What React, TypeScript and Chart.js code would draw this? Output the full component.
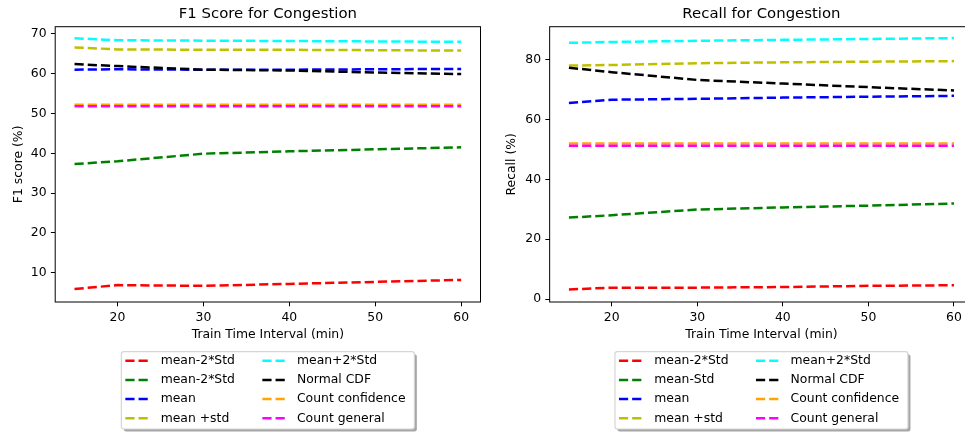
import React, { useEffect, useRef } from "react";
import { Chart, registerables } from "chart.js";

Chart.register(...registerables);

// ---------- data ----------
const intervals = [15, 20, 30, 40, 50, 60];
const xTicks = [20, 30, 40, 50, 60];
const f1Ticks = [10, 20, 30, 40, 50, 60, 70];
const recallTicks = [0, 20, 40, 60, 80];

const f1Labels = [
  "mean-2*Std",
  "mean-2*Std",
  "mean",
  "mean +std",
  "mean+2*Std",
  "Normal CDF",
  "Count confidence",
  "Count general",
];
const recallLabels = [
  "mean-2*Std",
  "mean-Std",
  "mean",
  "mean +std",
  "mean+2*Std",
  "Normal CDF",
  "Count confidence",
  "Count general",
];

const f1MeanMinus2Std = [5.9, 6.9, 6.7, 7.2, 7.7, 8.2];
const f1MeanMinusStd = [37.3, 38.0, 39.9, 40.5, 41.0, 41.5];
const f1Mean = [61.0, 61.1, 61.0, 61.0, 61.1, 61.2];
const f1MeanPlusStd = [66.6, 66.1, 66.0, 66.0, 65.9, 65.8];
const f1MeanPlus2Std = [68.9, 68.4, 68.3, 68.2, 68.1, 68.0];
const f1NormalCdf = [62.4, 61.9, 61.0, 60.8, 60.3, 59.9];
const f1CountConfidence = [52.2, 52.2, 52.2, 52.2, 52.2, 52.2];
const f1CountGeneral = [51.8, 51.8, 51.8, 51.8, 51.8, 51.8];

const recMeanMinus2Std = [3.2, 3.8, 3.8, 4.0, 4.4, 4.6];
const recMeanMinusStd = [27.2, 28.0, 29.9, 30.6, 31.2, 31.9];
const recMean = [65.5, 66.6, 66.9, 67.3, 67.6, 67.9];
const recMeanPlusStd = [78.0, 78.2, 78.8, 79.1, 79.3, 79.5];
const recMeanPlus2Std = [85.6, 85.9, 86.3, 86.6, 86.9, 87.2];
const recNormalCdf = [77.3, 75.8, 73.2, 72.0, 70.8, 69.7];
const recCountConfidence = [52.0, 52.0, 52.0, 52.0, 52.0, 52.0];
const recCountGeneral = [51.2, 51.2, 51.2, 51.2, 51.2, 51.2];

// ---------- style ----------
const FONT = "'DejaVu Sans', 'Liberation Sans', sans-serif";
const COLORS = ["#ff0000", "#008000", "#0000ff", "#bfbf00", "#00ffff", "#000000", "#ffa500", "#ff00ff"];
const DASH = [9.2, 4];

type Panel = {
  title: string;
  yLabel: string;
  yMin: number;
  yMax: number;
  yTicks: number[];
  series: number[][];
  labels: string[];
  yAxisWidth: number;
  yTitlePad: number;
  padRight: number;
};

function roundRectPath(ctx: CanvasRenderingContext2D, x: number, y: number, w: number, h: number, r: number) {
  ctx.beginPath();
  ctx.moveTo(x + r, y);
  ctx.lineTo(x + w - r, y);
  ctx.arcTo(x + w, y, x + w, y + r, r);
  ctx.lineTo(x + w, y + h - r);
  ctx.arcTo(x + w, y + h, x + w - r, y + h, r);
  ctx.lineTo(x + r, y + h);
  ctx.arcTo(x, y + h, x, y + h - r, r);
  ctx.lineTo(x, y + r);
  ctx.arcTo(x, y, x + r, y, r);
  ctx.closePath();
}

function buildChart(canvas: HTMLCanvasElement, p: Panel) {
  const datasets = p.series.map((values, i) => ({
    label: p.labels[i],
    data: values.map((v, j) => ({ x: intervals[j], y: v })),
    borderColor: COLORS[i],
    backgroundColor: COLORS[i],
    borderWidth: 2.5,
    borderDash: DASH,
    borderCapStyle: "butt" as const,
    borderJoinStyle: "round" as const,
    pointRadius: 0,
    pointHoverRadius: 0,
    fill: false,
    tension: 0,
    order: p.series.length - 1 - i,
  }));

  const decor = {
    id: "decor",
    afterDatasetsDraw(chart: any) {
      const { ctx, chartArea: a } = chart;
      ctx.save();
      // frame
      ctx.strokeStyle = "#000";
      ctx.lineWidth = 1;
      ctx.setLineDash([]);
      ctx.strokeRect(a.left, a.top, a.right - a.left, a.bottom - a.top);
      // title
      ctx.fillStyle = "#000";
      ctx.font = `14.9px ${FONT}`;
      ctx.textAlign = "center";
      ctx.textBaseline = "alphabetic";
      const cx = (a.left + a.right) / 2;
      ctx.fillText(p.title, cx, 18.3);
      // legend
      const bw = 293;
      const bh = 77.3;
      const bx = cx - bw / 2;
      const by = 351.7;
      roundRectPath(ctx, bx + 2.5, by + 2.5, bw, bh, 2.5);
      ctx.fillStyle = "rgba(77,77,77,0.5)";
      ctx.fill();
      roundRectPath(ctx, bx, by, bw, bh, 2.5);
      ctx.fillStyle = "#ffffff";
      ctx.fill();
      ctx.strokeStyle = "#d6d6d6";
      ctx.lineWidth = 1.2;
      ctx.stroke();
      p.labels.forEach((label, i) => {
        const col = i >= 4 ? 1 : 0;
        const row = i % 4;
        const y = by + 9 + row * 19.2;
        const hx = bx + (col ? 141 : 4);
        ctx.beginPath();
        ctx.setLineDash(DASH);
        ctx.lineWidth = 2.5;
        ctx.lineCap = "butt";
        ctx.strokeStyle = COLORS[i];
        ctx.moveTo(hx, y);
        ctx.lineTo(hx + 24.8, y);
        ctx.stroke();
        ctx.setLineDash([]);
        ctx.fillStyle = "#000";
        ctx.font = `12.4px ${FONT}`;
        ctx.textAlign = "left";
        ctx.textBaseline = "middle";
        ctx.fillText(label, bx + (col ? 175.6 : 39.3), y);
      });
      ctx.restore();
    },
  };

  const tickFont = { family: FONT, size: 12.4 };
  const grid = {
    display: true,
    drawOnChartArea: false,
    drawTicks: true,
    tickLength: 4.3,
    color: "#000",
    tickColor: "#000",
    tickWidth: 1,
    lineWidth: 1,
  };

  return new Chart(canvas, {
    type: "line",
    data: { datasets },
    plugins: [decor],
    options: {
      animation: false,
      responsive: false,
      maintainAspectRatio: false,
      events: [],
      layout: { padding: { top: 26.7, bottom: 91.9, left: 0, right: p.padRight } },
      plugins: {
        legend: { display: false },
        title: { display: false },
        tooltip: { enabled: false },
      },
      scales: {
        x: {
          type: "linear",
          min: 12.75,
          max: 62.25,
          afterBuildTicks: (ax: any) => {
            ax.ticks = xTicks.map((v) => ({ value: v }));
          },
          afterFit: (ax: any) => {
            ax.height = 40.1;
          },
          grid,
          border: { display: false },
          ticks: { padding: 4.5, color: "#000", font: tickFont, maxRotation: 0, autoSkip: false },
          title: {
            display: true,
            text: "Train Time Interval (min)",
            color: "#000",
            font: tickFont,
            padding: { top: 0, bottom: 0 },
          },
        },
        y: {
          type: "linear",
          min: p.yMin,
          max: p.yMax,
          afterBuildTicks: (ax: any) => {
            ax.ticks = p.yTicks.map((v) => ({ value: v }));
          },
          afterFit: (ax: any) => {
            ax.width = p.yAxisWidth;
          },
          grid,
          border: { display: false },
          ticks: { padding: 4.3, color: "#000", font: tickFont, autoSkip: false },
          title: {
            display: true,
            text: p.yLabel,
            color: "#000",
            font: tickFont,
            padding: { top: p.yTitlePad, bottom: 0 },
          },
        },
      },
    } as any,
  });
}

const leftPanel: Panel = {
  title: "F1 Score for Congestion",
  yLabel: "F1 score (%)",
  yMin: 2.65,
  yMax: 71.8,
  yTicks: f1Ticks,
  series: [
    f1MeanMinus2Std,
    f1MeanMinusStd,
    f1Mean,
    f1MeanPlusStd,
    f1MeanPlus2Std,
    f1NormalCdf,
    f1CountConfidence,
    f1CountGeneral,
  ],
  labels: f1Labels,
  yAxisWidth: 55.2,
  yTitlePad: 10.9,
  padRight: 9.5,
};

const rightPanel: Panel = {
  title: "Recall for Congestion",
  yLabel: "Recall (%)",
  yMin: -1.0,
  yMax: 91.0,
  yTicks: recallTicks,
  series: [
    recMeanMinus2Std,
    recMeanMinusStd,
    recMean,
    recMeanPlusStd,
    recMeanPlus2Std,
    recNormalCdf,
    recCountConfidence,
    recCountGeneral,
  ],
  labels: recallLabels,
  yAxisWidth: 59.66,
  yTitlePad: 14.3,
  padRight: 16.75,
};

function ChartCanvas({ panel, left, width }: { panel: Panel; left: number; width: number }) {
  const ref = useRef<HTMLCanvasElement | null>(null);
  useEffect(() => {
    if (!ref.current) return;
    const chart = buildChart(ref.current, panel);
    return () => chart.destroy();
  }, [panel]);
  return (
    <canvas
      ref={ref}
      width={width}
      height={434}
      style={{ position: "absolute", left, top: 0, width, height: 434, display: "block" }}
    />
  );
}

export default function App() {
  return (
    <div
      style={{
        position: "absolute",
        left: 0,
        top: 0,
        width: 965,
        height: 434,
        overflow: "hidden",
        background: "#fff",
      }}
    >
      <ChartCanvas panel={leftPanel} left={0} width={490} />
      <ChartCanvas panel={rightPanel} left={490} width={500} />
    </div>
  );
}
